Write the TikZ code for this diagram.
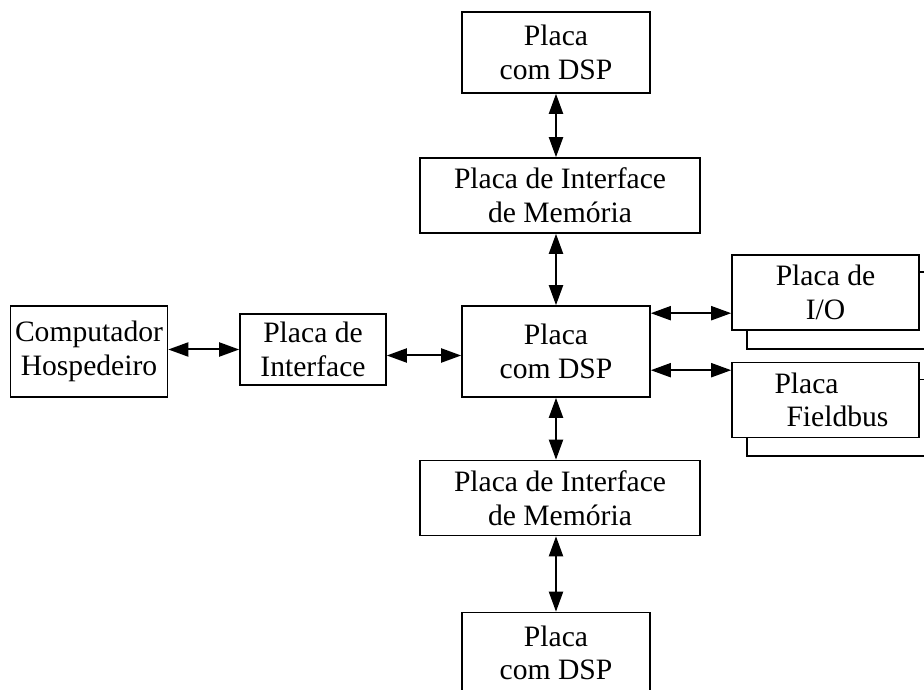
\documentclass[tikz,border=0pt]{standalone}
\usepackage{fontspec}
\setmainfont{Liberation Serif}
\usepackage{tikz}
\usetikzlibrary{arrows.meta, backgrounds}
\tikzstyle{board} = [rectangle, draw=black, line width=0.8pt, fill=white, align=center, inner sep=0pt, font=\fontsize{14.8}{16.8}\selectfont]
\tikzstyle{dsp} = [board, minimum width=94pt, minimum height=40.5pt]
\tikzstyle{mem} = [board, minimum width=140pt, minimum height=37.5pt]
\tikzstyle{card} = [board, minimum width=93.5pt, minimum height=37.5pt]
\tikzstyle{arrow} = [line width=1pt, {Triangle[length=10pt,width=7pt]}-{Triangle[length=10pt,width=7pt]}]

\begin{document}
\begin{tikzpicture}[node distance=75pt]
\useasboundingbox (-278pt,-168.75pt) rectangle (184pt,175.75pt);

% Nodes
\node (dspMid) [dsp, minimum height=45.5pt] at (0,0) {Placa \\ com DSP};
\node (memTop) [mem, above of=dspMid, xshift=2pt, yshift=3pt] {Placa de Interface \\ de Mem\'oria};
\node (dspTop) [dsp, above of=memTop, xshift=-2pt, yshift=-3.5pt] {Placa \\ com DSP};
\node (memBot) [mem, below of=dspMid, xshift=2pt, yshift=1.75pt] {Placa de Interface \\ de Mem\'oria};
\node (dspBot) [dsp, below of=memBot, xshift=-2pt, yshift=-2.5pt] {Placa \\ com DSP};
\node (iface) [board, minimum width=73pt, minimum height=35.5pt, left of=dspMid, xshift=-46.5pt, yshift=1pt] {Placa de \\ Interface};
\node (host) [board, minimum width=78.5pt, minimum height=45.5pt, left of=iface, xshift=-37pt, yshift=-1pt] {Computador \\ Hospedeiro};
\node (io) [card, right of=dspMid, xshift=59.75pt, yshift=29.5pt] {Placa de \\ I/O};
\node (fbus) [card, align=left, below of=io, yshift=21.25pt] {\hspace*{6pt}Placa \\ \hspace*{12pt}Fieldbus};

% stacked cards behind
\begin{pgfonlayer}{background}
\draw [line width=0.8pt] ([xshift=8pt,yshift=-9pt]io.south west) rectangle ([xshift=8pt,yshift=-9pt]io.north east);
\draw [line width=0.8pt] ([xshift=8pt,yshift=-9pt]fbus.south west) rectangle ([xshift=8pt,yshift=-9pt]fbus.north east);
\end{pgfonlayer}

% Arrows
\draw [arrow] (dspTop.south) -- (memTop.north -| dspTop.south);
\draw [arrow] (memTop.south -| dspMid.north) -- (dspMid.north);
\draw [arrow] (dspMid.south) -- (memBot.north -| dspMid.south);
\draw [arrow] (memBot.south -| dspBot.north) -- (dspBot.north);
\draw [arrow] (host.east |- iface.west) -- (iface.west);
\draw [arrow] ([yshift=-3pt]iface.east) -- ([yshift=-3pt]iface.east -| dspMid.west);
\draw [arrow] ([yshift=-4pt]dspMid.north east) -- ([yshift=-4pt]dspMid.north east -| io.west);
\draw [arrow] ([yshift=-32.5pt]dspMid.north east) -- ([yshift=-32.5pt]dspMid.north east -| fbus.west);

\end{tikzpicture}
\end{document}
